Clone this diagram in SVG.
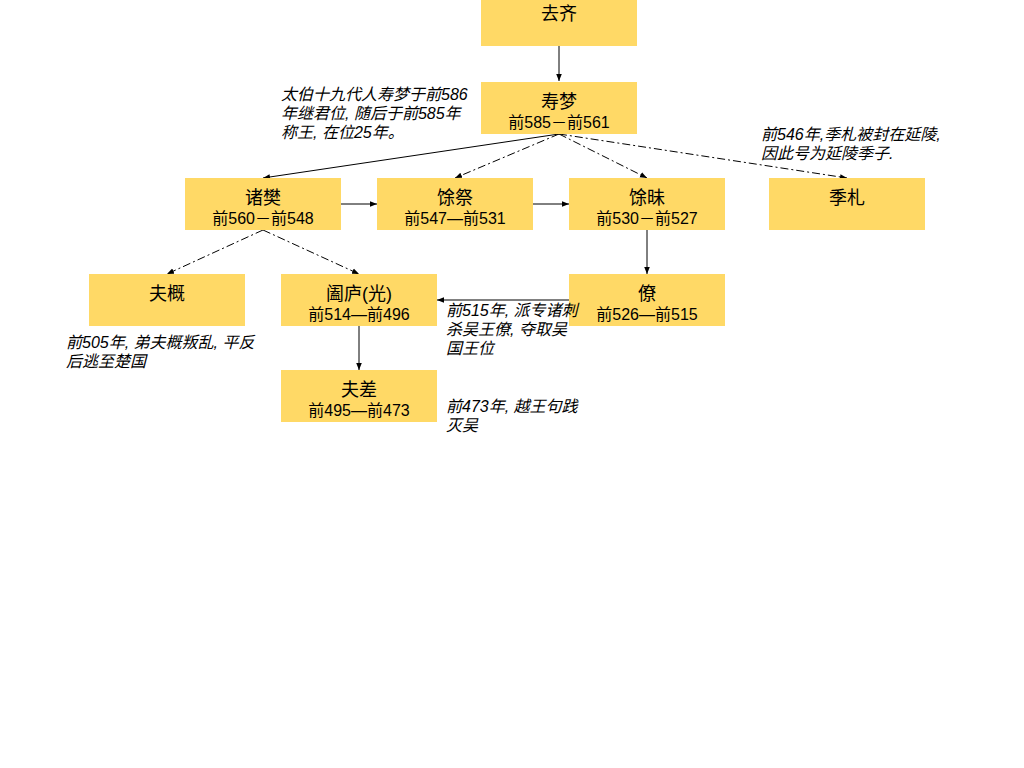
<svg xmlns="http://www.w3.org/2000/svg" width="1024" height="768" viewBox="0 0 1024 768">
<defs>
<marker id="ah" viewBox="0 0 10 10" refX="10" refY="5" markerWidth="7" markerHeight="7" markerUnits="userSpaceOnUse" orient="auto">
<path d="M0,1 L10,5 L0,9 Z" fill="#000"/>
</marker>
<style>
.box{fill:#FFD966;}
.nm{font-family:"Liberation Sans","Noto Sans CJK SC",sans-serif;font-size:18px;fill:#000;text-anchor:middle;}
.dt{font-family:"Liberation Sans","Noto Sans CJK SC",sans-serif;font-size:16px;fill:#000;text-anchor:middle;}
.an{font-family:"Liberation Sans","Noto Sans CJK SC",sans-serif;font-size:16px;font-style:italic;fill:#000;}
.c{fill:none;stroke:#000;stroke-width:1;marker-end:url(#ah);}
.dd{stroke-dasharray:8,3,2,3;}
</style>
</defs>
<rect width="1024" height="768" fill="#fff"/>
<g id="connectors">
<line class="c" x1="559" y1="46" x2="559" y2="81"/>
<line class="c" x1="559" y1="134" x2="263" y2="178"/>
<line class="c dd" x1="559" y1="134" x2="455" y2="178"/>
<line class="c dd" x1="559" y1="134" x2="647" y2="178"/>
<line class="c dd" x1="559" y1="134" x2="847" y2="178"/>
<line class="c" x1="341" y1="204" x2="377" y2="204"/>
<line class="c" x1="533" y1="204" x2="569" y2="204"/>
<line class="c" x1="647" y1="230" x2="647" y2="274"/>
<line class="c dd" x1="263" y1="230" x2="167" y2="274"/>
<line class="c dd" x1="263" y1="230" x2="359" y2="274"/>
<line class="c" x1="569" y1="300" x2="437" y2="300"/>
<line class="c" x1="359" y1="326" x2="359" y2="370"/>
</g>
<g id="n-quqi"><rect class="box" x="481" y="0" width="156" height="46"/><text class="nm" x="559" y="20">去齐</text></g>
<g id="n-shoumeng"><rect class="box" x="481" y="82" width="156" height="52"/><text class="nm" x="559" y="108">寿梦</text><text class="dt" x="559" y="128">前585－前561</text></g>
<g id="n-zhufan"><rect class="box" x="185" y="178" width="156" height="52"/><text class="nm" x="263" y="204">诸樊</text><text class="dt" x="263" y="224">前560－前548</text></g>
<g id="n-yuji"><rect class="box" x="377" y="178" width="156" height="52"/><text class="nm" x="455" y="204">馀祭</text><text class="dt" x="455" y="224">前547—前531</text></g>
<g id="n-yumei"><rect class="box" x="569" y="178" width="156" height="52"/><text class="nm" x="647" y="204">馀昧</text><text class="dt" x="647" y="224">前530－前527</text></g>
<g id="n-jizha"><rect class="box" x="769" y="178" width="156" height="52"/><text class="nm" x="847" y="204">季札</text></g>
<g id="n-fugai"><rect class="box" x="89" y="274" width="156" height="52"/><text class="nm" x="167" y="300">夫概</text></g>
<g id="n-helu"><rect class="box" x="281" y="274" width="156" height="52"/><text class="nm" x="359" y="300">阖庐(光)</text><text class="dt" x="359" y="320">前514—前496</text></g>
<g id="n-liao"><rect class="box" x="569" y="274" width="156" height="52"/><text class="nm" x="647" y="300">僚</text><text class="dt" x="647" y="320">前526—前515</text></g>
<g id="n-fuchai"><rect class="box" x="281" y="370" width="156" height="52"/><text class="nm" x="359" y="396">夫差</text><text class="dt" x="359" y="416">前495—前473</text></g>
<g id="annotations">
<text class="an" x="281" y="100">太伯十九代人寿梦于前586</text>
<text class="an" x="281" y="119">年继君位, 随后于前585年</text>
<text class="an" x="281" y="138">称王, 在位25年。</text>
<text class="an" x="761" y="140">前546年,季札被封在延陵,</text>
<text class="an" x="761" y="159">因此号为延陵季子.</text>
<text class="an" x="66" y="348">前505年, 弟夫概叛乱, 平反</text>
<text class="an" x="66" y="367">后逃至楚国</text>
<text class="an" x="446" y="316">前515年, 派专诸刺</text>
<text class="an" x="446" y="335">杀吴王僚, 夺取吴</text>
<text class="an" x="446" y="354">国王位</text>
<text class="an" x="446" y="412">前473年, 越王句践</text>
<text class="an" x="446" y="431">灭吴</text>
</g>
</svg>
